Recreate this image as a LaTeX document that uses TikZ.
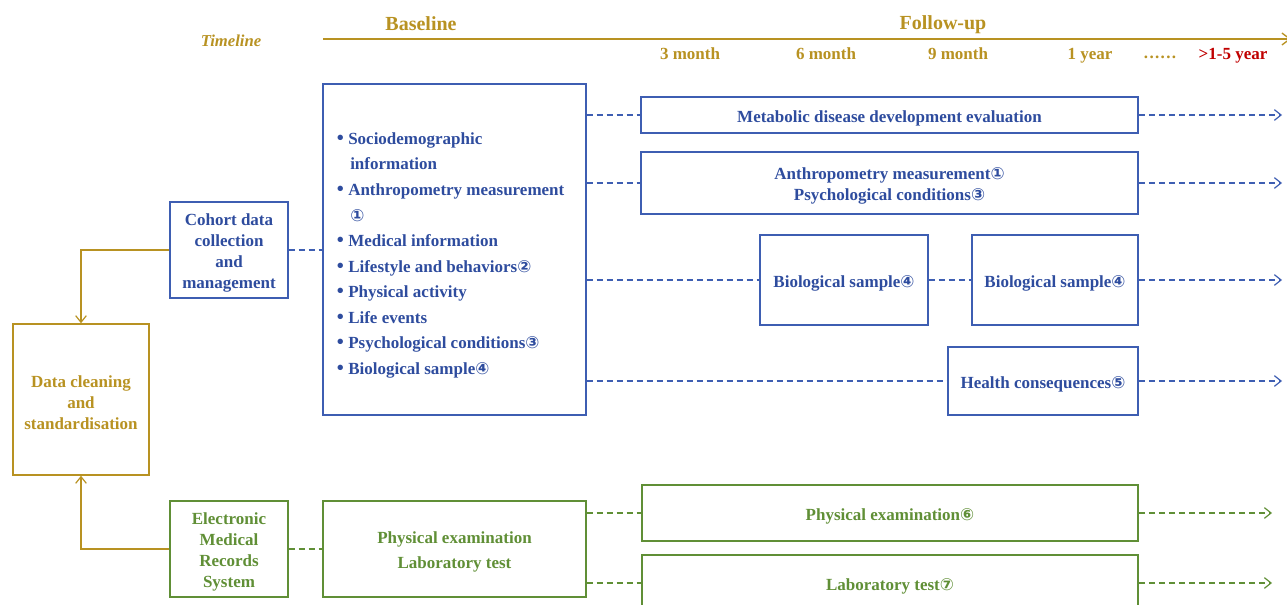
\documentclass[tikz,border=0pt]{standalone}
\usepackage{fontspec}
\setmainfont{Liberation Serif}
\newfontfamily\circfont{DejaVu Sans}
\usetikzlibrary{arrows.meta}
\definecolor{gold}{RGB}{184,146,34}
\definecolor{bl}{RGB}{62,94,178}
\definecolor{bltxt}{RGB}{46,76,158}
\definecolor{gr}{RGB}{96,143,54}
\definecolor{rd}{RGB}{192,0,0}
\newcommand\cn[1]{{\circfont\fontsize{12.5}{14}\selectfont #1}}
\newcommand\itm{\makebox[12pt][c]{\fontsize{15}{15}\selectfont\textbullet}}
\newcommand\tup{\rule{0pt}{13.5pt}}
\newcommand\dt{.\hspace{1pt}}
\tikzset{
  every node/.style={font=\bfseries\fontsize{12.75}{15.75}\selectfont},
  bbox/.style={draw=bl, line width=1.1pt, text=bltxt, align=center, inner sep=0pt},
  gbox/.style={draw=gr, line width=1.1pt, text=gr, align=center, inner sep=0pt},
  ybox/.style={draw=gold, line width=1.1pt, text=gold, align=center, inner sep=0pt},
  bdash/.style={draw=bl, line width=0.9pt, dash pattern=on 4.5pt off 3pt},
  gdash/.style={draw=gr, line width=0.9pt, dash pattern=on 4.5pt off 3pt},
  goldline/.style={draw=gold, line width=1.1pt},
  barb/.style={-{Straight Barb[length=5pt,width=8pt,line width=0.9pt]}},
  tl/.style={text=gold, inner sep=0pt, text height=9pt, text depth=2.5pt},
  li/.style={text=bltxt, anchor=west, inner sep=0pt, text height=9pt, text depth=2.5pt},
}
\begin{document}
\begin{tikzpicture}[x=0.75pt,y=-0.75pt]
\useasboundingbox (0,0) rectangle (1287,605);
% timeline
\coordinate (tl0) at (323,39);
\coordinate (tl1) at (1291,39);
\draw[goldline, -{Straight Barb[length=6pt,width=9pt,line width=1pt]}] (tl0) -- (tl1);
\node[tl, font=\bfseries\itshape\fontsize{12.5}{14}\selectfont] (timeline) at (231,42) {Timeline};
\node[tl, font=\bfseries\fontsize{15}{16}\selectfont, text height=11pt] (baseline) at (421,25) {Baseline};
\node[tl, font=\bfseries\fontsize{15}{16}\selectfont, text height=11pt] (follow) at (943,24) {Follow-up};
\node[tl] (m3) at (690,55) {3 month};
\node[tl] (m6) at (826,55) {6 month};
\node[tl] (m9) at (958,55) {9 month};
\node[tl] (y1) at (1090,55) {1 year};
\node[tl] (dots) at (1160,54) {\dt\dt\dt\dt\dt.};
\node[tl, text=rd] (y5) at (1233,55) {>1-5 year};

% left boxes
\node[bbox, minimum width=88.5pt, minimum height=72pt] (cohort) at (229,250) {\tup Cohort data\\collection\\and\\management};
\node[ybox, minimum width=102pt, minimum height=113.25pt] (clean) at (81,399.5) {\tup Data cleaning\\and\\standardisation};
\node[gbox, minimum width=88.5pt, minimum height=72pt] (emr) at (229,549) {\tup Electronic\\Medical\\Records\\System};

% baseline boxes
\node[bbox, minimum width=197.25pt, minimum height=248.25pt] (big) at (454.5,249.5) {};
\node[li] (i1) at (332,140) {\itm Sociodemographic};
\node[li] (i1b) at (350,165) {information};
\node[li] (i2) at (332,191) {\itm Anthropometry measurement};
\node[li] (i2b) at (350,217) {\cn{①}};
\node[li] (i3) at (332,242) {\itm Medical information};
\node[li] (i4) at (332,268) {\itm Lifestyle and behaviors\cn{②}};
\node[li] (i5) at (332,293) {\itm Physical activity};
\node[li] (i6) at (332,319) {\itm Life events};
\node[li] (i7) at (332,344) {\itm Psychological conditions\cn{③}};
\node[li] (i8) at (332,370) {\itm Biological sample\cn{④}};

\node[gbox, minimum width=197.25pt, minimum height=72pt] (gbig) at (454.5,549) {\tup Physical examination\\[3pt]Laboratory test};

% follow-up boxes
\node[bbox, minimum width=372.75pt, minimum height=27pt] (metab) at (889.5,115) {\tup Metabolic disease development evaluation};
\node[bbox, minimum width=372.75pt, minimum height=46.5pt] (anthro) at (889.5,183) {\tup Anthropometry measurement\cn{①}\\Psychological conditions\cn{③}};
\node[bbox, minimum width=126pt, minimum height=67.5pt] (bio1) at (844,280) {\tup Biological sample\cn{④}};
\node[bbox, minimum width=124.5pt, minimum height=67.5pt] (bio2) at (1055,280) {\tup Biological sample\cn{④}};
\node[bbox, minimum width=142.5pt, minimum height=51pt] (health) at (1043,381) {\tup Health consequences\cn{⑤}};
\node[gbox, minimum width=372pt, minimum height=42pt] (phys) at (890,513) {\tup Physical examination\cn{⑥}};
\node[gbox, minimum width=372pt, minimum height=42pt] (lab) at (890,583) {\tup Laboratory test\cn{⑦}};

% free ends
\coordinate (e1) at (1282,115);
\coordinate (e2) at (1282,183);
\coordinate (e3) at (1282,280);
\coordinate (e4) at (1282,381);
\coordinate (e5) at (1272,513);
\coordinate (e6) at (1272,583);

% connectors
\draw[goldline, barb] (cohort.west) -| (clean.north);
\draw[goldline, barb] (emr.west) -| (clean.south);
\draw[bdash] (cohort.east) -- (cohort.east -| big.west);
\draw[gdash] (emr.east) -- (gbig.west);
\draw[bdash] (big.east |- metab.west) -- (metab.west);
\draw[bdash] (big.east |- anthro.west) -- (anthro.west);
\draw[bdash] (big.east |- bio1.west) -- (bio1.west);
\draw[bdash] (bio1.east) -- (bio2.west);
\draw[bdash] (big.east |- health.west) -- (health.west);
\draw[bdash, barb] (metab.east) -- (e1);
\draw[bdash, barb] (anthro.east) -- (e2);
\draw[bdash, barb] (bio2.east) -- (e3);
\draw[bdash, barb] (health.east) -- (e4);
\draw[gdash] (gbig.east |- phys.west) -- (phys.west);
\draw[gdash] (gbig.east |- lab.west) -- (lab.west);
\draw[gdash, barb] (phys.east) -- (e5);
\draw[gdash, barb] (lab.east) -- (e6);
\end{tikzpicture}
\end{document}
